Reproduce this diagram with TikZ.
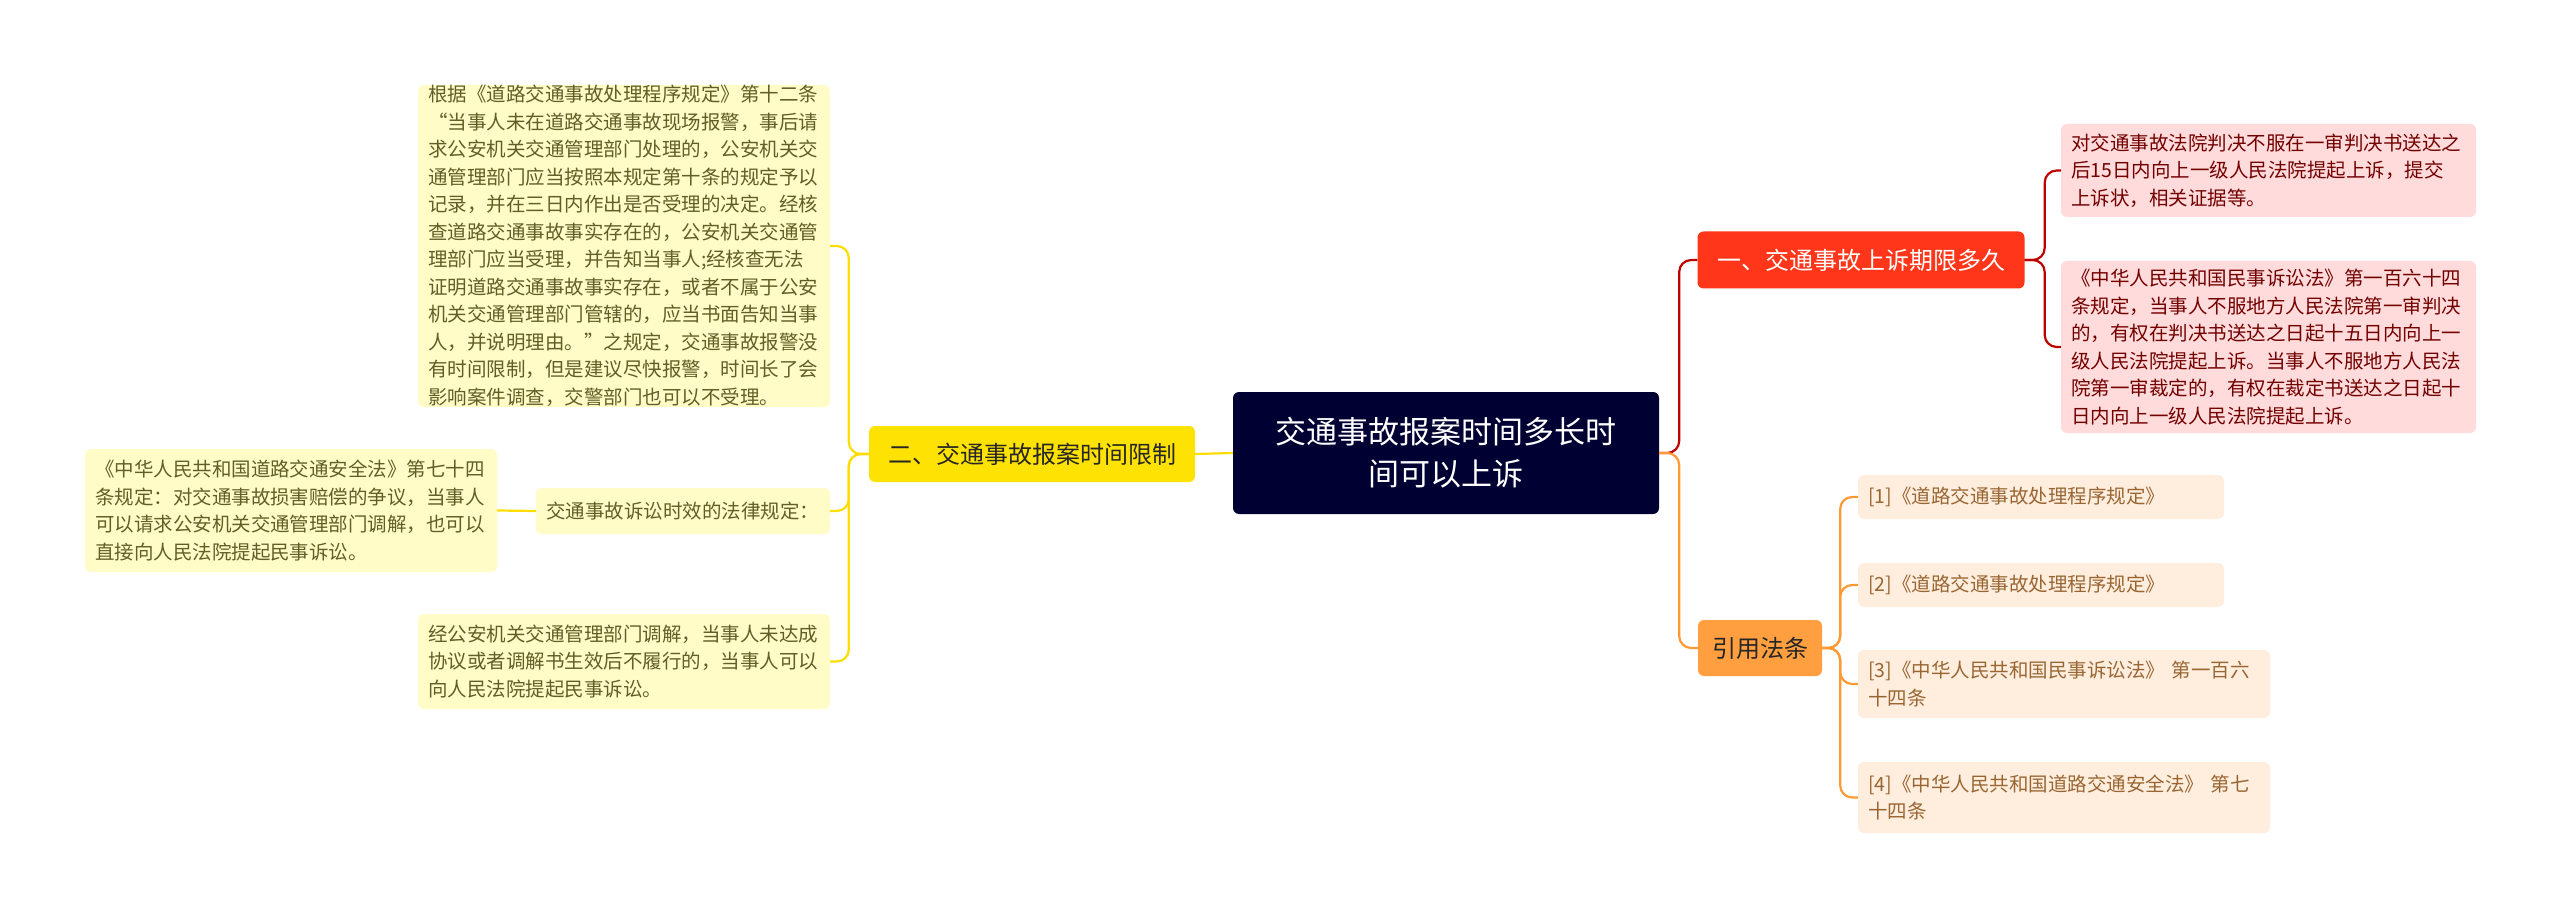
\documentclass[tikz,border=0pt]{standalone}
\usepackage{fontspec}
\setmainfont{Noto Sans CJK SC}
\begin{document}
\begin{tikzpicture}[x=1pt,y=-1pt,
  box/.style={rounded corners=6pt,inner xsep=10pt,inner ysep=0pt,align=left,font=\fontsize{19.5}{27.5}\selectfont},
  rleaf/.style={box,fill=red!14!white,text=red!45!black},
  oleaf/.style={box,fill=orange!13!white,text=brown!80!black},
  yleaf/.style={box,fill=yellow!22!white,text=olive!60!black},
  rl/.style={draw=red!75!black,line width=2.2pt,rounded corners=12pt},
  ol/.style={draw=orange!80!white,line width=2.2pt,rounded corners=12pt},
  yl/.style={draw=yellow!80!orange,line width=2.2pt,rounded corners=12pt}]
\useasboundingbox (0,0) rectangle (2560,917);
\def\bx#1#2#3#4#5#6#7{\node[#6,minimum width=#3-#1,minimum height=#4-#2,text width=#3-#1-20] (#5) at ({(#1+#3)/2},{(#2+#4)/2}) {#7};}
% root
\node[rounded corners=6pt,fill=blue!20!black,text=white,minimum width=426,minimum height=122,align=center,font=\fontsize{31}{42}\selectfont] (root) at (1446,453) {交通事故报案时间多长时\\间可以上诉};
% red
\node[rounded corners=6pt,fill=red!75!orange!90!white,text=white,minimum width=327,minimum height=57,font=\fontsize{24}{30}\selectfont] (red) at (1861,260) {一、交通事故上诉期限多久};
\bx{2061}{124}{2476}{217}{r1}{rleaf}{对交通事故法院判决不服在一审判决书送达之\\后15日内向上一级人民法院提起上诉，提交\\上诉状，相关证据等。}
\bx{2061}{261}{2476}{433}{r2}{rleaf}{《中华人民共和国民事诉讼法》第一百六十四\\条规定，当事人不服地方人民法院第一审判决\\的，有权在判决书送达之日起十五日内向上一\\级人民法院提起上诉。当事人不服地方人民法\\院第一审裁定的，有权在裁定书送达之日起十\\日内向上一级人民法院提起上诉。}
% orange
\node[rounded corners=6pt,fill=orange!75!white,text=black!85,minimum width=124,minimum height=56,font=\fontsize{24}{30}\selectfont] (org) at (1760,648) {引用法条};
\bx{1858}{475}{2224}{519}{o1}{oleaf}{[1]《道路交通事故处理程序规定》}
\bx{1858}{563}{2224}{607}{o2}{oleaf}{[2]《道路交通事故处理程序规定》}
\bx{1858}{650}{2270}{718}{o3}{oleaf}{[3]《中华人民共和国民事诉讼法》 第一百六\\十四条}
\bx{1858}{762}{2270}{833}{o4}{oleaf}{[4]《中华人民共和国道路交通安全法》 第七\\十四条}
% yellow
\node[rounded corners=6pt,fill=yellow!85!orange,text=black!85,minimum width=326,minimum height=56,font=\fontsize{24}{30}\selectfont] (yel) at (1032,454) {二、交通事故报案时间限制};
\bx{418}{85}{830}{407}{y1}{yleaf}{根据《道路交通事故处理程序规定》第十二条\\“当事人未在道路交通事故现场报警，事后请\\求公安机关交通管理部门处理的，公安机关交\\通管理部门应当按照本规定第十条的规定予以\\记录，并在三日内作出是否受理的决定。经核\\查道路交通事故事实存在的，公安机关交通管\\理部门应当受理，并告知当事人;经核查无法\\证明道路交通事故事实存在，或者不属于公安\\机关交通管理部门管辖的，应当书面告知当事\\人，并说明理由。”之规定，交通事故报警没\\有时间限制，但是建议尽快报警，时间长了会\\影响案件调查，交警部门也可以不受理。}
\bx{536}{488}{830}{534}{y2}{yleaf}{交通事故诉讼时效的法律规定：}
\bx{85}{449}{497}{572}{y2a}{yleaf}{《中华人民共和国道路交通安全法》第七十四\\条规定：对交通事故损害赔偿的争议，当事人\\可以请求公安机关交通管理部门调解，也可以\\直接向人民法院提起民事诉讼。}
\bx{418}{614}{830}{709}{y3}{yleaf}{经公安机关交通管理部门调解，当事人未达成\\协议或者调解书生效后不履行的，当事人可以\\向人民法院提起民事诉讼。}
% connectors
\draw[rl] (root.east) -- ++(20,0) |- (red.west);
\draw[ol] (root.east) -- ++(20,0) |- (org.west);
\draw[rl] (red.east) -- ++(20,0) |- (r1.west);
\draw[rl] (red.east) -- ++(20,0) |- (r2.west);
\foreach \n in {o1,o2,o3,o4} \draw[ol] (org.east) -- ++(18,0) |- (\n.west);
\draw[yl] (root.west) -- (yel.east);
\foreach \n in {y1,y2,y3} \draw[yl] (yel.west) -- ++(-20,0) |- (\n.east);
\draw[yl] (y2.west) -- (y2a.east);
\end{tikzpicture}
\end{document}
